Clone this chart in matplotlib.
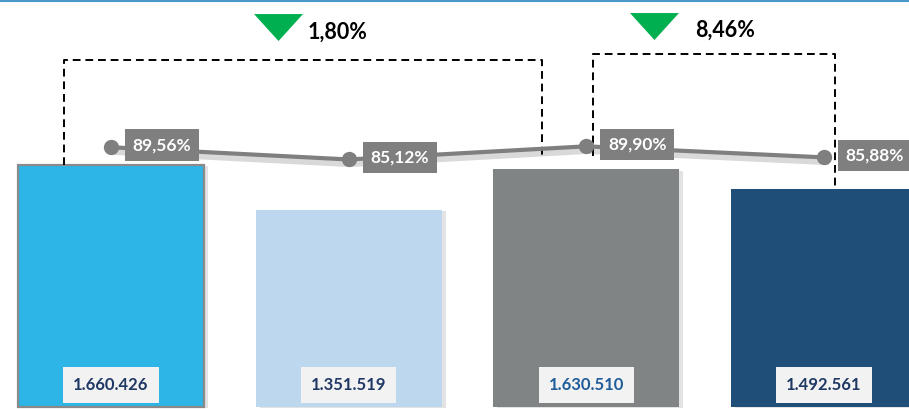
import matplotlib.pyplot as plt
import matplotlib.patheffects as pe
from matplotlib.patches import Polygon
from matplotlib.lines import Line2D

plt.rcParams['font.family'] = ['Lato', 'DejaVu Sans']

# data
totals = [1660426, 1351519, 1630510, 1492561]
ratios = [89.56, 85.12, 89.90, 85.88]
bar_colors = ['#2cb5e6', '#bdd7ee', '#808484', '#1f4e79']
label_colors = ['#1f3864', '#1f3864', '#1f5c99', '#1f3864']
changes = ['1,80%', '8,46%']

x = list(range(len(totals)))

fig = plt.figure(figsize=(9.09, 4.09), dpi=100)
ax = fig.add_axes([0, 0, 1, 1])
ax2 = ax.twinx()

shadow = [pe.SimplePatchShadow(offset=(3, -1), alpha=0.22, shadow_rgbFace='#808080'), pe.Normal()]
bars = ax.bar(x, totals, width=0.783, color=bar_colors, zorder=2)
bars[0].set_edgecolor('#8a8a8a')
bars[0].set_linewidth(1.6)
for b in bars:
    b.set_path_effects(shadow)

for i, v in enumerate(totals):
    ax.text(x[i], 151000, f"{v:,}".replace(',', '.'), ha='center', va='center',
            fontsize=12, fontweight='bold', color=label_colors[i], zorder=5,
            bbox=dict(boxstyle='square,pad=0.6', fc='#f2f2f2', ec='none'))

ax.set_xlim(-0.467, 3.358)
ax.set_ylim(-13722, 2792500)
ax2.set_ylim(-5.6, 143.1)

line_shadow = [pe.SimpleLineShadow(offset=(1, -3), alpha=0.15, linewidth=5), pe.Normal()]
ax2.plot(x, ratios, color='#7f7f7f', lw=3, zorder=3, path_effects=line_shadow)
ax2.plot(x, ratios, ls='none', marker='o', markersize=10, color='#7f7f7f', zorder=3)
for i, r in enumerate(ratios):
    ax2.annotate(f"{r:.2f}%".replace('.', ','), (x[i], r), xytext=(51, 2),
                 textcoords='offset pixels', ha='center', va='center',
                 fontsize=12.5, fontweight='bold', color='white', zorder=6,
                 bbox=dict(boxstyle='square,pad=0.45', fc='#7f7f7f', ec='none'))

# dashed brackets
dash = dict(color='black', lw=1.4, ls=(0, (4, 2.5)), zorder=4)
ax.plot([x[0] - 0.198, x[0] - 0.198, x[2] - 0.185, x[2] - 0.185],
        [totals[0], 2381000, 2381000, 1708000], **dash)
ax.plot([x[2] + 0.03, x[2] + 0.03, x[3] + 0.046, x[3] + 0.046],
        [1722000, 2422000, 2422000, totals[3]], **dash)

# change markers
tri_x = [(0.602, 0.808), (2.184, 2.390)]
tri_y = [(2696000, 2511000), (2703000, 2518000)]
txt_pos = [(0.829, 2573000), (2.457, 2587000)]
for (x0, x1), (y0, y1), (tx, ty), c in zip(tri_x, tri_y, txt_pos, changes):
    ax.add_patch(Polygon([(x0, y0), (x1, y0), ((x0 + x1) / 2, y1)],
                         closed=True, fc='#00b050', ec='none', zorder=4))
    ax.text(tx, ty, c, ha='left', va='center', fontsize=15.5,
            fontweight='bold', color='black')

for a in (ax, ax2):
    a.axis('off')

fig.add_artist(Line2D([0, 1], [0.997, 0.997], transform=fig.transFigure,
                      color='#4a98c8', lw=1.5))

fig.savefig('out.png', dpi=100)
